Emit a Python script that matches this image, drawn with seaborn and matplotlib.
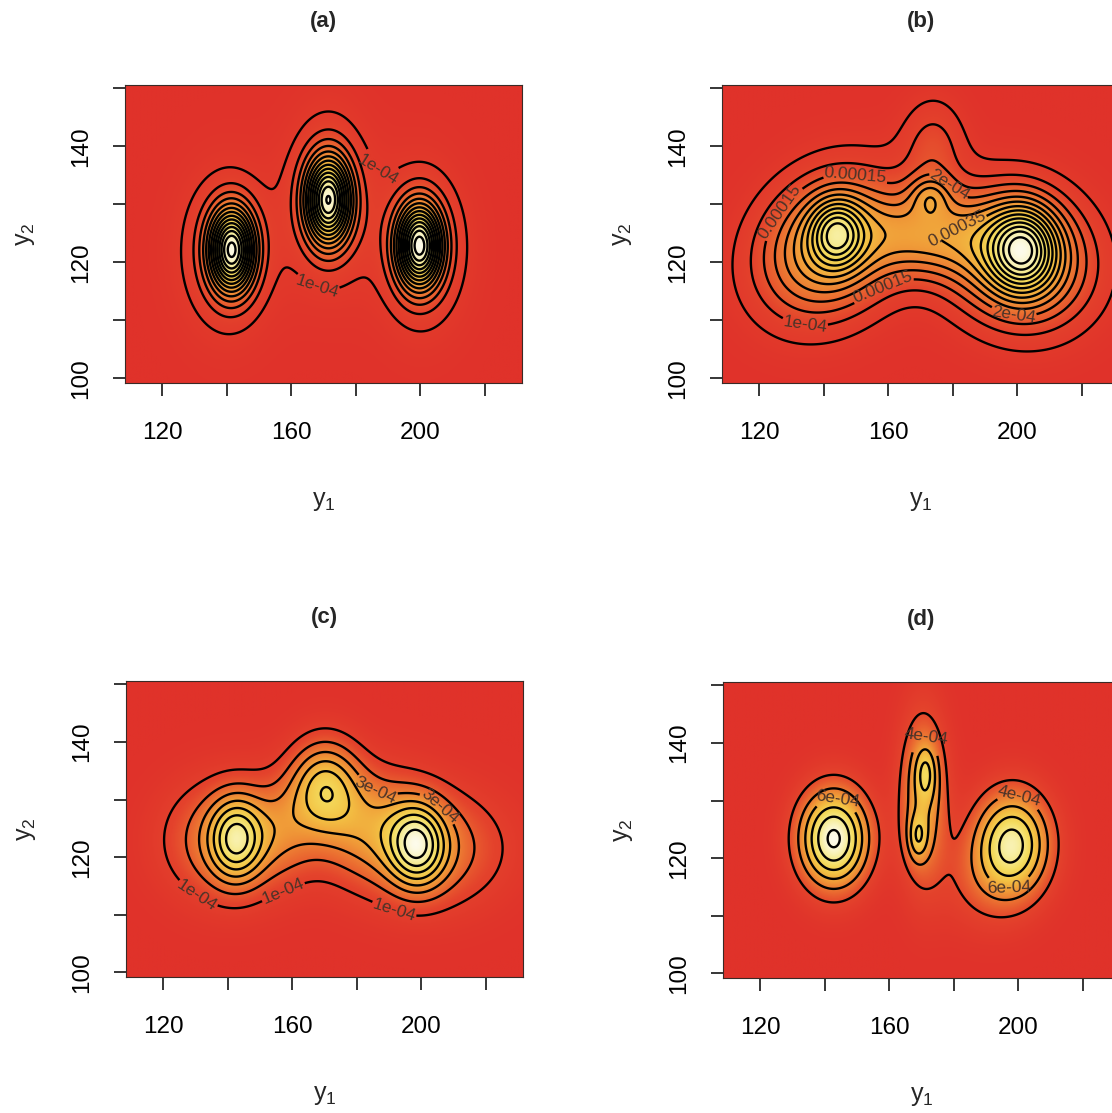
import numpy as np
import matplotlib
matplotlib.use("Agg")
import matplotlib.pyplot as plt
import seaborn as sns

sns.set_theme(style="ticks")
plt.rcParams["font.family"] = ["Liberation Sans", "DejaVu Sans"]
plt.rcParams["mathtext.fontset"] = "custom"
plt.rcParams["mathtext.rm"] = "Liberation Sans"
plt.rcParams["mathtext.it"] = "Liberation Sans:italic"

# ---- axes ----
x_range = (108.5, 231.5)
y_range = (99.2, 150.6)
x_ticks = [120, 140, 160, 180, 200, 220]
x_tick_labels = ["120", "", "160", "", "200", ""]
y_ticks = [100, 110, 120, 130, 140, 150]
y_tick_labels = ["100", "", "120", "", "140", ""]
panel_titles = ["(a)", "(b)", "(c)", "(d)"]

# ---- bivariate normal mixtures (weight, means, sds, correlation) ----
a_weight = [0.183, 0.183, 0.184, 0.15, 0.15, 0.15]
a_mean1 = [141.6, 171.5, 199.7, 139.8, 171.5, 200.5]
a_mean2 = [122.2, 130.8, 122.9, 121.8, 130.8, 122.5]
a_sd1 = [4.8, 4.8, 4.8, 10.5, 9.5, 10.0]
a_sd2 = [5.0, 5.2, 5.0, 10.0, 10.5, 10.0]
a_rho = [0.0, 0.0, 0.0, 0.0, 0.0, 0.0]
a_step = 1e-4

b_weight = [0.30, 0.30, 0.09, 0.035, 0.075, 0.01, 0.03]
b_mean1 = [142.0, 200.0, 172.0, 144.1, 201.8, 173.0, 174.0]
b_mean2 = [123.0, 121.0, 124.5, 125.1, 122.5, 131.5, 140.0]
b_sd1 = [15.0, 15.0, 13.0, 5.5, 7.0, 4.5, 7.0]
b_sd2 = [8.5, 8.0, 5.0, 4.0, 5.0, 2.5, 6.0]
b_rho = [0.2, -0.1, 0.0, 0.0, 0.0, 0.0, 0.0]
b_step = 5e-5

c_weight = [0.18, 0.075, 0.12, 0.13, 0.20, 0.095, 0.05]
c_mean1 = [140.0, 142.6, 170.0, 183.0, 202.0, 198.8, 157.0]
c_mean2 = [123.0, 123.2, 132.5, 126.0, 121.5, 122.1, 125.0]
c_sd1 = [13.0, 5.5, 7.5, 12.0, 16.0, 6.0, 8.0]
c_sd2 = [7.0, 5.0, 5.5, 6.5, 7.0, 5.0, 6.0]
c_rho = [0.0, 0.0, 0.0, 0.0, 0.0, 0.0, 0.0]
c_step = 1e-4

d_weight = [0.33, 0.02, 0.015, 0.18, 0.30, 0.08]
d_mean1 = [142.8, 171.4, 168.8, 170.5, 198.2, 190.0]
d_mean2 = [123.4, 135.1, 123.6, 130.5, 122.7, 116.0]
d_sd1 = [7.3, 2.5, 2.2, 5.0, 7.8, 10.0]
d_sd2 = [5.8, 3.5, 2.8, 10.0, 6.0, 6.0]
d_rho = [0.0, 0.0, 0.0, 0.0, 0.0, 0.0]
d_step = 2e-4

panels = [
    (a_weight, a_mean1, a_mean2, a_sd1, a_sd2, a_rho, a_step),
    (b_weight, b_mean1, b_mean2, b_sd1, b_sd2, b_rho, b_step),
    (c_weight, c_mean1, c_mean2, c_sd1, c_sd2, c_rho, c_step),
    (d_weight, d_mean1, d_mean2, d_sd1, d_sd2, d_rho, d_step),
]

# where contour labels sit (nearest contour gets the label)
label_spots = [
    [(166, 113), (188, 136.5)],
    [(150, 135.5), (179, 133.5), (181, 126.5), (127, 128.5), (158, 116), (134, 108.5), (199, 111.5)],
    [(185, 130.8), (158, 113), (192, 111.5), (130, 113), (205, 128.5)],
    [(144, 130.5), (200, 130), (197, 115.5), (172, 142)],
]

# axes boxes in pixels: left, top, right, bottom
boxes = [(125, 85, 522, 383), (722, 85, 1119, 383),
         (126, 681, 523, 977), (723, 682, 1120, 978)]

W, H = 1112, 1113
heat = sns.blend_palette(["#E0322A", "#E4432C", "#EB6F31", "#F09B38",
                          "#F3C244", "#F4DC5E", "#F7EE9E", "#FDFBEA"], as_cmap=True)


def mixture_density(g1, g2, weight, m1, m2, s1, s2, rho):
    z = np.zeros_like(g1)
    for w, a, b, sa, sb, r in zip(weight, m1, m2, s1, s2, rho):
        u = (g1 - a) / sa
        v = (g2 - b) / sb
        q = (u * u - 2 * r * u * v + v * v) / (1 - r * r)
        z += w * np.exp(-0.5 * q) / (2 * np.pi * sa * sb * np.sqrt(1 - r * r))
    return z


def r_label(v):
    v = round(float(v), 9)
    fixed = np.format_float_positional(v, precision=7, trim="-")
    sci = np.format_float_scientific(v, precision=4, trim="-", exp_digits=2)
    return fixed if len(fixed) <= len(sci) else sci


gx = np.linspace(x_range[0], x_range[1], 500)
gy = np.linspace(y_range[0], y_range[1], 300)
G1, G2 = np.meshgrid(gx, gy)

fig = plt.figure(figsize=(W / 100, H / 100), dpi=100)
fig.patch.set_facecolor("white")

for i, (params, box, title, spots) in enumerate(zip(panels, boxes, panel_titles, label_spots)):
    weight, m1, m2, s1, s2, rho, step = params
    l, t, r, b = box
    ax = fig.add_axes([l / W, 1 - b / H, (r - l) / W, (b - t) / H])
    z = mixture_density(G1, G2, weight, m1, m2, s1, s2, rho)

    ax.imshow(z, extent=[x_range[0], x_range[1], y_range[0], y_range[1]],
              origin="lower", aspect="auto", cmap=heat, vmin=0, vmax=z.max(),
              interpolation="bilinear")
    levels = np.arange(step, z.max(), step)
    cs = ax.contour(G1, G2, z, levels=levels, colors="black", linewidths=1.7)
    ax.clabel(cs, fmt=r_label, fontsize=12.5, colors="#4a3328", inline=True,
              inline_spacing=1, manual=spots)

    ax.set_xlim(*x_range)
    ax.set_ylim(*y_range)
    ax.set_xticks(x_ticks)
    ax.set_xticklabels(x_tick_labels)
    ax.set_yticks(y_ticks)
    ax.set_yticklabels(y_tick_labels, rotation=90, va="center")
    ax.tick_params(axis="both", direction="out", length=9, width=1.1, color="black",
                   labelsize=17.5, labelcolor="black")
    ax.tick_params(axis="x", pad=19)
    ax.tick_params(axis="y", pad=15)
    ax.grid(False)
    for sp in ax.spines.values():
        sp.set_linewidth(0.8)
        sp.set_color("#3a2a26")

    cx = (l + r) / 2
    fig.text(cx / W, 1 - (t - 63) / H, title, ha="center", va="center",
             fontsize=16, fontweight="bold")
    fig.text(cx / W, 1 - (b + 118) / H, r"$\mathrm{y}_1$", ha="center", va="center",
             fontsize=18)
    fig.text((l - 100) / W, 1 - ((t + b) / 2) / H, r"$\mathrm{y}_2$", ha="center",
             va="center", rotation=90, fontsize=18)

fig.savefig("out.png", dpi=100, facecolor="white")
